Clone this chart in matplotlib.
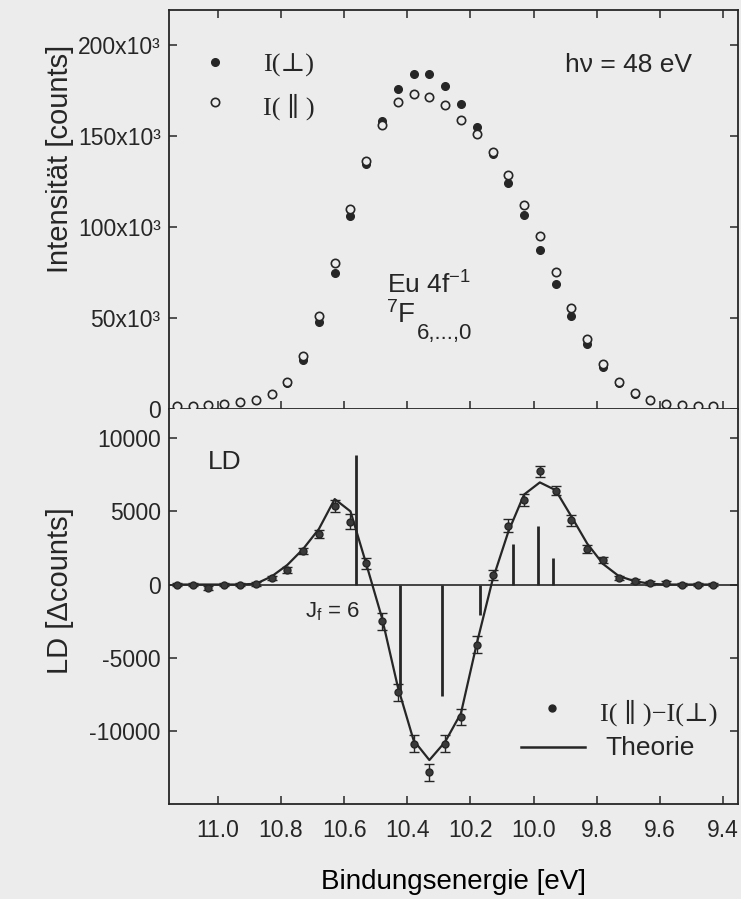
import matplotlib
matplotlib.use("Agg")
import matplotlib.pyplot as plt

# Binding energies of the measured points [eV]
energy = [11.13, 11.08, 11.03, 10.98, 10.93, 10.88, 10.83, 10.78, 10.73, 10.68,
          10.63, 10.58, 10.53, 10.48, 10.43, 10.38, 10.33, 10.28, 10.23, 10.18,
          10.13, 10.08, 10.03, 9.98, 9.93, 9.88, 9.83, 9.78, 9.73, 9.68,
          9.63, 9.58, 9.53, 9.48, 9.43]

# Intensities for the two polarisations [counts]
i_perp = [1700, 1700, 2400, 2700, 3800, 5000, 8000, 14000, 27000, 47600,
          74600, 105700, 134500, 158200, 175700, 183700, 184100, 177100, 167500, 155000,
          140200, 124200, 106300, 87500, 68700, 51000, 35900, 23000, 14500, 8400,
          4800, 2600, 2000, 1800, 1700]
i_par = [1700, 1700, 2200, 2700, 3800, 5000, 8400, 15000, 29300, 51100,
         80000, 110000, 136000, 155700, 168300, 172900, 171200, 166700, 158400, 150900,
         140800, 128200, 112000, 95200, 75100, 55300, 38300, 24600, 15000, 8600,
         4900, 2700, 2000, 1800, 1700]

# Linear dichroism I(par) - I(perp) with errors [counts]
ld = [0, 0, -230, 0, 0, 50, 460, 1020, 2320, 3460,
      5390, 4300, 1450, -2520, -7370, -10870, -12840, -10870, -9050, -4100,
      660, 4020, 5800, 7730, 6410, 4390, 2430, 1680, 460, 250,
      90, 130, 0, 0, 0]
ld_err = [120, 120, 120, 120, 120, 120, 150, 200, 200, 270,
          400, 510, 360, 570, 570, 610, 600, 600, 570, 570,
          360, 440, 420, 400, 300, 380, 270, 200, 150, 130,
          120, 120, 120, 120, 120]

# Calculated LD curve on the same energy grid
ld_theory = [0, 0, 0, 0, 0, 50, 550, 1340, 2430, 3800,
             5840, 5000, 1400, -2300, -7000, -10650, -12000, -10750, -8800, -4050,
             300, 3600, 6150, 6980, 6450, 4650, 2800, 1410, 580, 230,
             50, 0, 0, 0, 0]

# Fine-structure lines (J_f = 6 ... 0)
line_pos = [10.563, 10.423, 10.291, 10.17, 10.066, 9.985, 9.938]
line_height = [8850, -7200, -7600, -2100, 2770, 4020, 1800]

x_ticks = [11.0, 10.8, 10.6, 10.4, 10.2, 10.0, 9.8, 9.6, 9.4]
int_ticks = [0, 50000, 100000, 150000, 200000]
int_labels = ["0", "50x10³", "100x10³", "150x10³", "200x10³"]
ld_ticks = [-10000, -5000, 0, 5000, 10000]
ld_labels = ["-10000", "-5000", "0", "5000", "10000"]

paper = "#ececec"
ink = "#262626"
serif = ["Liberation Serif", "DejaVu Serif", "DejaVu Sans"]

plt.rcParams["font.family"] = ["Liberation Sans", "DejaVu Sans"]
plt.rcParams["mathtext.fontset"] = "custom"
plt.rcParams["mathtext.rm"] = "Liberation Sans"
plt.rcParams["mathtext.default"] = "regular"
plt.rcParams["text.color"] = ink
plt.rcParams["axes.edgecolor"] = ink
plt.rcParams["xtick.color"] = ink
plt.rcParams["ytick.color"] = ink

fig = plt.figure(figsize=(7.41, 8.99), dpi=100, facecolor=paper)
ax1 = fig.add_axes([0.2281, 0.5451, 0.7679, 0.4438], facecolor=paper)
ax2 = fig.add_axes([0.2281, 0.1057, 0.7679, 0.4394], facecolor=paper)

for ax in (ax1, ax2):
    ax.set_xlim(11.155, 9.352)
    ax.set_xticks(x_ticks)
    ax.tick_params(direction="in", length=6, width=1.1, labelsize=16.5, pad=6)
    for sp in ax.spines.values():
        sp.set_linewidth(1.3)

# Upper panel: intensities
ax1.plot(energy, i_perp, "o", ms=5.5, color=ink, zorder=3)
ax1.plot(energy, i_par, "o", ms=6, mfc=paper, mec=ink, mew=1.2, zorder=4)
ax1.set_ylim(0, 219000)
ax1.set_yticks(int_ticks)
ax1.set_yticklabels(int_labels)
ax1.tick_params(top=True, right=True, labelbottom=False)

ax1.plot([0.081], [0.870], "o", ms=5.5, color=ink, transform=ax1.transAxes)
ax1.plot([0.081], [0.769], "o", ms=6, mfc=paper, mec=ink, mew=1.2, transform=ax1.transAxes)
ax1.text(0.165, 0.862, "I(⊥)", family=serif, fontsize=19, va="center", transform=ax1.transAxes)
ax1.text(0.165, 0.757, "I( ∥ )", family=serif, fontsize=19, va="center", transform=ax1.transAxes)
ax1.text(0.696, 0.862, "hν = 48 eV", fontsize=19, va="center", transform=ax1.transAxes)
ax1.text(0.383, 0.311, "Eu 4f$^{-1}$", fontsize=19, va="center", transform=ax1.transAxes)
ax1.text(0.381, 0.235, "$^7$F", fontsize=20, va="center", transform=ax1.transAxes)
ax1.text(0.436, 0.188, "6,...,0", fontsize=16, va="center", transform=ax1.transAxes)

# Lower panel: linear dichroism
ax2.axhline(0, color=ink, lw=1.2, zorder=1)
ax2.vlines(line_pos, 0, line_height, color=ink, lw=2, zorder=2)
ax2.plot(energy, ld_theory, "-", color=ink, lw=1.6, zorder=3)
ax2.errorbar(energy, ld, yerr=ld_err, fmt="o", ms=5, color="#3a3a3a", mec=ink,
             ecolor=ink, elinewidth=1, capsize=3.5, capthick=1, zorder=4)
ax2.set_ylim(-15000, 12000)
ax2.set_yticks(ld_ticks)
ax2.set_yticklabels(ld_labels)
ax2.spines["top"].set_visible(False)
ax2.tick_params(right=True)
ax2.tick_params(axis="x", pad=11)

ax2.text(0.0685, 0.866, "LD", fontsize=19, va="center", transform=ax2.transAxes)
ax2.text(0.239, 0.486, "J$_f$ = 6", fontsize=16, va="center", transform=ax2.transAxes)
ax2.plot([0.673], [0.242], "o", ms=5, color=ink, transform=ax2.transAxes)
ax2.text(0.757, 0.232, "I( ∥ )−I(⊥)", family=serif, fontsize=19, va="center", transform=ax2.transAxes)
ax2.plot([0.618, 0.731], [0.145, 0.145], "-", color=ink, lw=1.8, transform=ax2.transAxes)
ax2.text(0.766, 0.142, "Theorie", fontsize=19, va="center", transform=ax2.transAxes)

ax2.set_xlabel("Bindungsenergie [eV]", fontsize=20, labelpad=19)

fig.text(0.081, 0.823, "Intensität [counts]", fontsize=21, rotation=90,
         ha="center", va="center")
fig.text(0.081, 0.343, "LD [Δcounts]", fontsize=21, rotation=90,
         ha="center", va="center")

plt.savefig("out.png", dpi=100, facecolor=paper)
